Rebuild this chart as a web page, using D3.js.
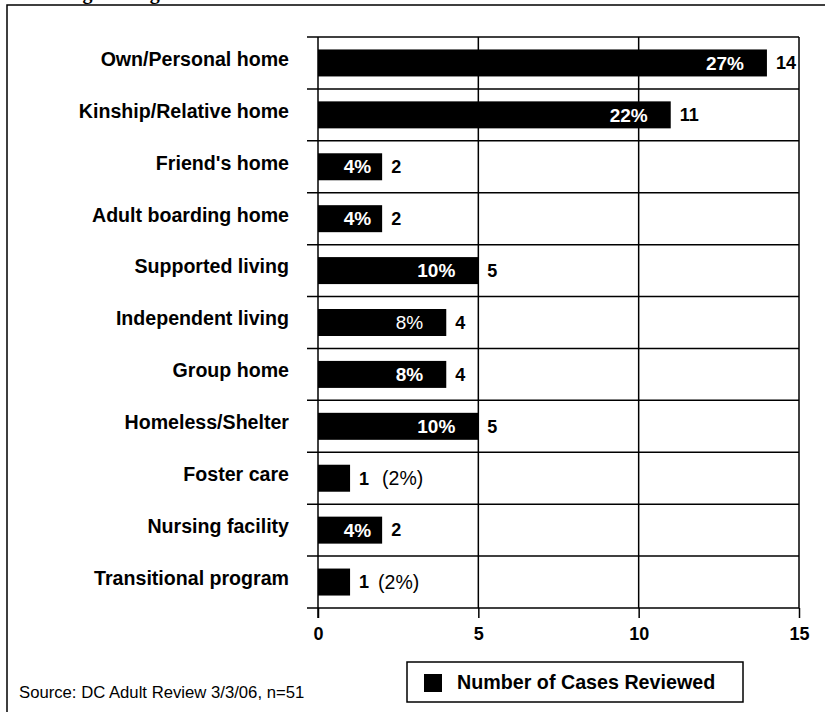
<!DOCTYPE html>
<html>
<head>
<meta charset="utf-8">
<script src="https://cdn.jsdelivr.net/npm/d3@7"></script>
<style>
  html, body { margin: 0; padding: 0; background: #fff; }
  svg { display: block; }
  text { font-family: "Liberation Sans", Arial, sans-serif; }
</style>
</head>
<body>
<svg id="chart" width="825" height="712"></svg>
<script>
// Living arrangements of reviewed cases
const categories = [
  "Own/Personal home",
  "Kinship/Relative home",
  "Friend's home",
  "Adult boarding home",
  "Supported living",
  "Independent living",
  "Group home",
  "Homeless/Shelter",
  "Foster care",
  "Nursing facility",
  "Transitional program"
];
const cases    = [14, 11, 2, 2, 5, 4, 4, 5, 1, 2, 1];
const percents = ["27%", "22%", "4%", "4%", "10%", "8%", "8%", "10%", "2%", "4%", "2%"];
const xTicks = [0, 5, 10, 15];
const seriesName = "Number of Cases Reviewed";
const sourceNote = "Source: DC Adult Review 3/3/06, n=51";
const titleText = "Living Arrangement";

const data = categories.map((c, i) => ({ cat: c, v: cases[i], pct: percents[i] }));

const svg = d3.select("#chart");
const plotL = 318, plotR = 799, plotT = 37, plotB = 608;

const x = d3.scaleLinear().domain([0, 15]).range([plotL, plotR]);
const y = d3.scaleBand().domain(categories).range([plotT, plotB]).padding(0);
const barH = y.bandwidth() * 0.52;
const cy = d => y(d.cat) + y.bandwidth() / 2;

// page title (mostly above the frame)
svg.append("text")
  .attr("x", 37).attr("y", -1)
  .style("font-family", "'Liberation Serif', 'Times New Roman', serif")
  .style("font-weight", "bold").style("font-size", "20px")
  .text(titleText);

// outer frame
svg.append("path")
  .attr("d", "M7,830 V5 H830")
  .attr("fill", "none").attr("stroke", "#000").attr("stroke-width", 1.5);

// row separators with outward ticks
const rowEdges = categories.map(c => y(c)).concat([plotB]);
svg.append("g").selectAll("line").data(rowEdges).join("line")
  .attr("x1", plotL - 11).attr("x2", plotR)
  .attr("y1", d => d).attr("y2", d => d)
  .attr("stroke", "#000").attr("stroke-width", 1.5);

// vertical gridlines
svg.append("g").selectAll("line").data(xTicks.slice(1)).join("line")
  .attr("x1", d => x(d)).attr("x2", d => x(d))
  .attr("y1", plotT).attr("y2", plotB)
  .attr("stroke", "#000").attr("stroke-width", 1.5);

// bars
svg.append("g").selectAll("rect").data(data).join("rect")
  .attr("x", x(0))
  .attr("y", d => y(d.cat) + (y.bandwidth() - barH) / 2)
  .attr("width", d => x(d.v) - x(0))
  .attr("height", barH)
  .attr("fill", "#000");

// x axis
const xAxis = svg.append("g")
  .attr("transform", `translate(0,${plotB})`)
  .call(d3.axisBottom(x).tickValues(xTicks).tickSize(10).tickSizeOuter(0).tickPadding(9));
xAxis.select(".domain").remove();
xAxis.selectAll(".tick line").attr("stroke", "#000").attr("stroke-width", 1.5);
xAxis.selectAll(".tick text")
  .attr("fill", "#000")
  .style("font-family", "'Liberation Sans', Arial, sans-serif")
  .style("font-weight", "bold").style("font-size", "18px");

// y axis line
svg.append("line")
  .attr("x1", x(0)).attr("x2", x(0))
  .attr("y1", plotT).attr("y2", plotB + 10)
  .attr("stroke", "#000").attr("stroke-width", 1.5);

// category labels
svg.append("g").selectAll("text").data(data).join("text")
  .attr("x", 289)
  .attr("y", d => cy(d) - 4)
  .attr("dy", "0.35em")
  .attr("text-anchor", "end")
  .style("font-weight", "bold").style("font-size", "19.6px")
  .text(d => d.cat);

// percentage inside wider bars
const inside = data.filter(d => d.v >= 2);
svg.append("g").selectAll("text").data(inside).join("text")
  .attr("x", d => x(d.v) - (d.v <= 2 ? 11 : 23))
  .attr("y", cy)
  .attr("dy", "0.35em")
  .attr("text-anchor", "end")
  .attr("fill", "#fff")
  .style("font-weight", d => d.cat === "Independent living" ? "normal" : "bold")
  .style("font-size", "19px")
  .text(d => d.pct);

// case counts at bar ends
svg.append("g").selectAll("text").data(data).join("text")
  .attr("x", d => x(d.v) + 9)
  .attr("y", cy)
  .attr("dy", "0.35em")
  .style("font-weight", "bold").style("font-size", "18px")
  .text(d => d.v);

// percentage beside the smallest bars
const outside = data.filter(d => d.v < 2);
svg.append("g").selectAll("text").data(outside).join("text")
  .attr("x", d => x(d.v) + (d.cat === "Foster care" ? 32 : 28))
  .attr("y", cy)
  .attr("dy", "0.35em")
  .style("font-size", "19.5px")
  .text(d => `(${d.pct})`);

// legend
const lg = svg.append("g");
lg.append("rect").attr("x", 407).attr("y", 662).attr("width", 336).attr("height", 40)
  .attr("fill", "#fff").attr("stroke", "#000").attr("stroke-width", 1.5);
lg.append("rect").attr("x", 424).attr("y", 674).attr("width", 18).attr("height", 18).attr("fill", "#000");
lg.append("text").attr("x", 457).attr("y", 689)
  .style("font-weight", "bold").style("font-size", "19.7px")
  .text(seriesName);

// source note
svg.append("text").attr("x", 19).attr("y", 698)
  .style("font-size", "16.7px")
  .text(sourceNote);
</script>
</body>
</html>
